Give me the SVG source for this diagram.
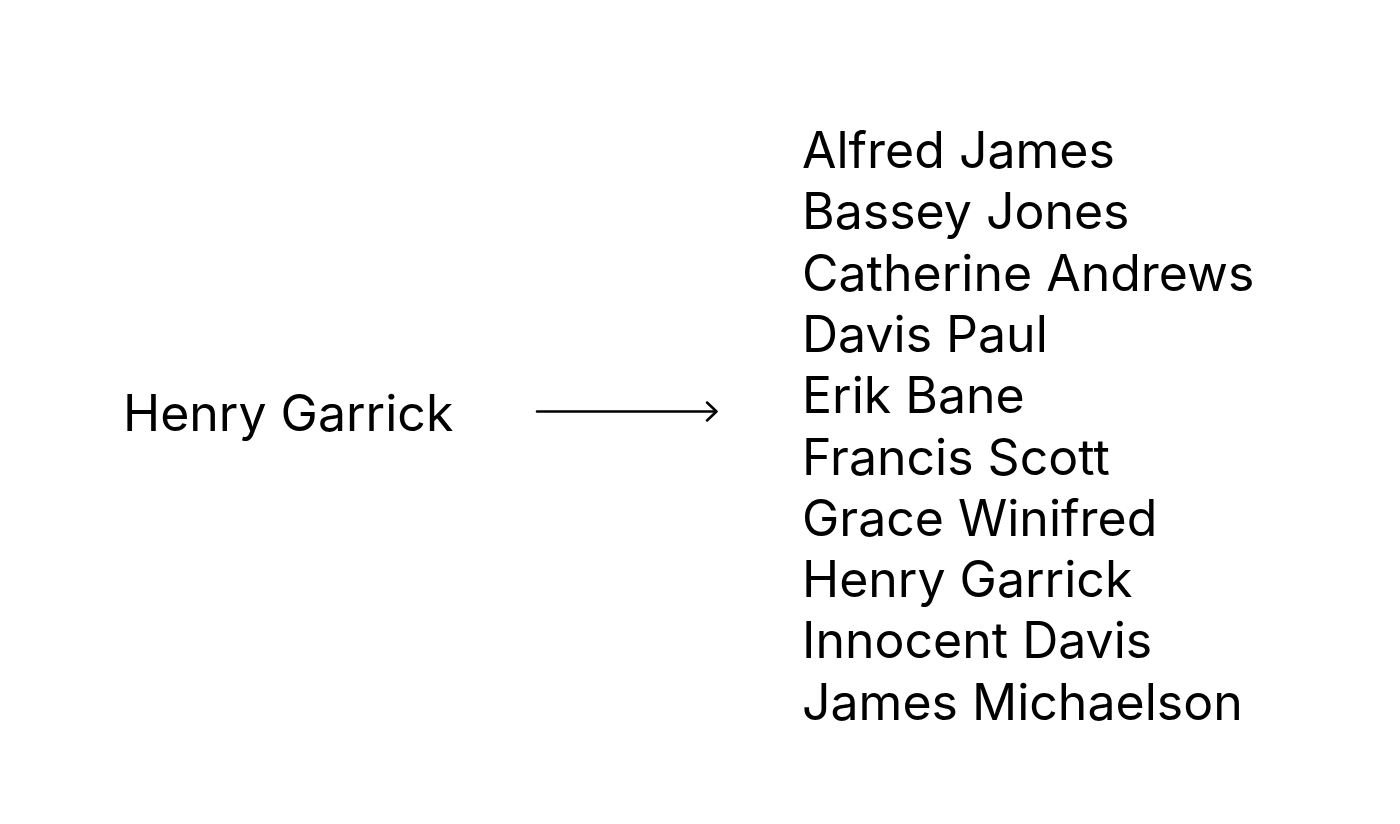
<svg xmlns="http://www.w3.org/2000/svg" width="1400" height="824" viewBox="0 0 1400 824">
<style>
text{font-family:Inter,"Liberation Sans",sans-serif;font-size:50px;fill:#000}
.c{stroke:#000;stroke-width:2.5;fill:none;stroke-linecap:round;stroke-linejoin:round}
</style>
<rect width="1400" height="824" fill="#fff"/>
<g id="source"><text x="123" y="431">Henry Garrick</text></g>
<g id="connectors">
<line class="c" x1="537" y1="411.5" x2="716" y2="411.5"/>
<polyline class="c" points="707,402.5 716.5,411.5 707,420.5"/>
</g>
<g id="list">
<text x="802" y="168">Alfred James</text>
<text x="802" y="229.3">Bassey Jones</text>
<text x="802" y="290.6">Catherine Andrews</text>
<text x="802" y="351.9">Davis Paul</text>
<text x="802" y="413.2">Erik Bane</text>
<text x="802" y="474.5">Francis Scott</text>
<text x="802" y="535.8">Grace Winifred</text>
<text x="802" y="597.1">Henry Garrick</text>
<text x="802" y="658.4">Innocent Davis</text>
<text x="802" y="719.7">James Michaelson</text>
</g>
</svg>
